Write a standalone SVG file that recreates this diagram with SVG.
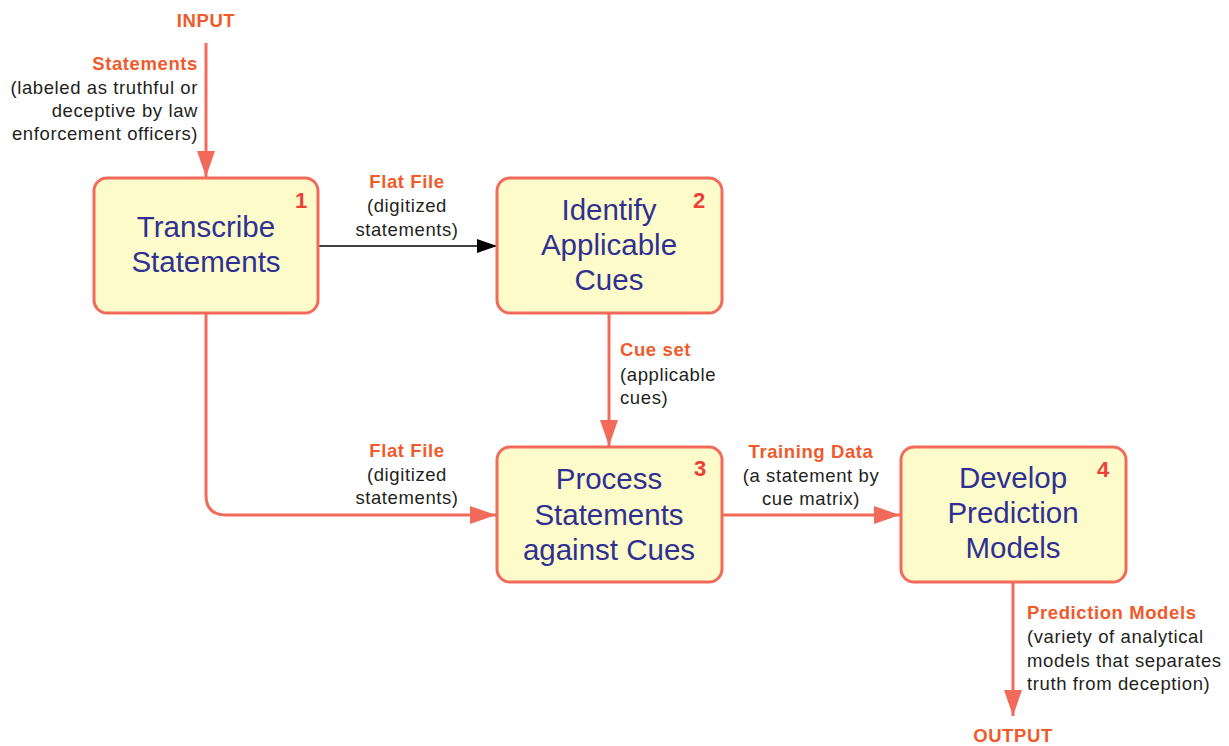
<svg xmlns="http://www.w3.org/2000/svg" width="1229" height="746" viewBox="0 0 1229 746">
<defs>
<style>
.box{fill:#FEFBCB;stroke:#F26A5A;stroke-width:3}
.title{font-family:"Liberation Sans",Arial,sans-serif;font-size:29.5px;fill:#2E3192;text-anchor:middle}
.num{font-family:"Liberation Sans",Arial,sans-serif;font-size:22px;font-weight:bold;fill:#EF3E36;text-anchor:middle}
.lbl{font-family:"Liberation Sans",Arial,sans-serif;font-size:18.5px;font-weight:bold;fill:#F15A2B;letter-spacing:0.6px}
.txt{font-family:"Liberation Sans",Arial,sans-serif;font-size:18.5px;fill:#231F20;letter-spacing:0.6px}
.conn{fill:none;stroke:#F26A5A;stroke-width:3}
.thin{fill:none;stroke:#000;stroke-width:1.3}
</style>
<marker id="ah" viewBox="0 0 26 18" refX="26" refY="9" markerWidth="26" markerHeight="18" markerUnits="userSpaceOnUse" orient="auto">
<path d="M0,0 L26,9 L0,18 Z" fill="#F26A5A"/>
</marker>
<marker id="ahb" viewBox="0 0 20 14" refX="20" refY="7" markerWidth="20" markerHeight="14" markerUnits="userSpaceOnUse" orient="auto">
<path d="M0,0 L20,7 L0,14 Z" fill="#000"/>
</marker>
</defs>

<g id="connectors">
<path class="conn" d="M206,43 V177" marker-end="url(#ah)"/>
<path class="thin" d="M318,246 H497" marker-end="url(#ahb)"/>
<path class="conn" d="M206,313 V495 Q206,515 226,515 H496" marker-end="url(#ah)"/>
<path class="conn" d="M609,313 V446" marker-end="url(#ah)"/>
<path class="conn" d="M722,515 H900" marker-end="url(#ah)"/>
<path class="conn" d="M1013,582 V716" marker-end="url(#ah)"/>
</g>

<g id="labels">
<text class="lbl" x="206" y="27" text-anchor="middle">INPUT</text>
<text class="lbl" x="198" y="70" text-anchor="end">Statements</text>
<text class="txt" x="198" y="94" text-anchor="end">(labeled as truthful or</text>
<text class="txt" x="198" y="117" text-anchor="end">deceptive by law</text>
<text class="txt" x="198" y="140" text-anchor="end">enforcement officers)</text>

<text class="lbl" x="407" y="188" text-anchor="middle">Flat File</text>
<text class="txt" x="407" y="212" text-anchor="middle">(digitized</text>
<text class="txt" x="407" y="236" text-anchor="middle">statements)</text>

<text class="lbl" x="407" y="457" text-anchor="middle">Flat File</text>
<text class="txt" x="407" y="481" text-anchor="middle">(digitized</text>
<text class="txt" x="407" y="504" text-anchor="middle">statements)</text>

<text class="lbl" x="620" y="356">Cue set</text>
<text class="txt" x="620" y="381">(applicable</text>
<text class="txt" x="620" y="404">cues)</text>

<text class="lbl" x="811" y="458" text-anchor="middle">Training Data</text>
<text class="txt" x="811" y="482" text-anchor="middle">(a statement by</text>
<text class="txt" x="811" y="505" text-anchor="middle">cue matrix)</text>

<text class="lbl" x="1027" y="619">Prediction Models</text>
<text class="txt" x="1027" y="643">(variety of analytical</text>
<text class="txt" x="1027" y="667">models that separates</text>
<text class="txt" x="1027" y="690">truth from deception)</text>

<text class="lbl" x="1013" y="742" text-anchor="middle">OUTPUT</text>
</g>

<g id="node1">
<rect class="box" x="94" y="178" width="224" height="135" rx="13"/>
<text class="title" x="206" y="237">Transcribe</text>
<text class="title" x="206" y="272">Statements</text>
<text class="num" x="301" y="208">1</text>
</g>

<g id="node2">
<rect class="box" x="497" y="178" width="225" height="135" rx="13"/>
<text class="title" x="609" y="220">Identify</text>
<text class="title" x="609" y="255">Applicable</text>
<text class="title" x="609" y="290">Cues</text>
<text class="num" x="699" y="208">2</text>
</g>

<g id="node3">
<rect class="box" x="497" y="447" width="225" height="135" rx="13"/>
<text class="title" x="609" y="489">Process</text>
<text class="title" x="609" y="525">Statements</text>
<text class="title" x="609" y="560">against Cues</text>
<text class="num" x="700" y="476">3</text>
</g>

<g id="node4">
<rect class="box" x="901" y="447" width="225" height="135" rx="13"/>
<text class="title" x="1013" y="488">Develop</text>
<text class="title" x="1013" y="523">Prediction</text>
<text class="title" x="1013" y="558">Models</text>
<text class="num" x="1103" y="477">4</text>
</g>
</svg>
